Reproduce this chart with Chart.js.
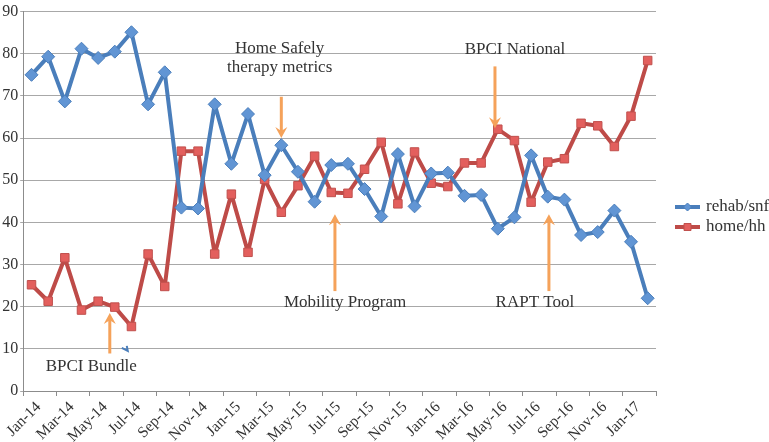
<!DOCTYPE html>
<html>
<head>
<meta charset="utf-8">
<script src="https://cdn.jsdelivr.net/npm/chart.js@4/dist/chart.umd.min.js"></script>
<style>
  html, body { margin: 0; padding: 0; background: #ffffff; }
  #wrap { width: 769px; height: 442px; position: relative; }
</style>
</head>
<body>
<div id="wrap"><canvas id="c" width="769" height="442"></canvas></div>
<script>
const categories = ['Jan-14','Feb-14','Mar-14','Apr-14','May-14','Jun-14','Jul-14','Aug-14','Sep-14','Oct-14','Nov-14','Dec-14',
  'Jan-15','Feb-15','Mar-15','Apr-15','May-15','Jun-15','Jul-15','Aug-15','Sep-15','Oct-15','Nov-15','Dec-15',
  'Jan-16','Feb-16','Mar-16','Apr-16','May-16','Jun-16','Jul-16','Aug-16','Sep-16','Oct-16','Nov-16','Dec-16',
  'Jan-17','Feb-17'];
const rehabSnf = [75, 79.3, 68.7, 81.2, 79, 80.5, 85.1, 68, 75.6, 43.5, 43.3, 68,
  53.9, 65.7, 51.2, 58.3, 52, 44.9, 53.6, 53.9, 47.9, 41.4, 56.2, 43.8,
  51.6, 51.8, 46.3, 46.5, 38.5, 41.2, 55.9, 46.1, 45.4, 37, 37.7, 42.8,
  35.4, 22];
const homeHh = [25.2, 21.3, 31.6, 19.2, 21.3, 19.9, 15.3, 32.5, 24.8, 56.9, 56.9, 32.5,
  46.7, 32.9, 50.2, 42.4, 48.7, 55.7, 47.1, 46.9, 52.6, 59, 44.4, 56.7,
  49.3, 48.5, 54.1, 54.1, 62.1, 59.4, 44.8, 54.3, 55.1, 63.5, 62.9, 58,
  65.2, 78.4];
const seriesNames = ['rehab/snf', 'home/hh'];
const yTickValues = [0, 10, 20, 30, 40, 50, 60, 70, 80, 90];

// annotations: text lines with anchor (category index, value), arrow (index, from value, to value)
const annotationTexts = [
  { lines: ['Home Safely', 'therapy metrics'], idx: 14.9, val: 81.3, lineGap: 4.5 },
  { lines: ['BPCI National'], idx: 29.03, val: 81.1, lineGap: 0 },
  { lines: ['BPCI Bundle'], idx: 3.59, val: 5.9, lineGap: 0 },
  { lines: ['Mobility Program'], idx: 18.83, val: 20.9, lineGap: 0 },
  { lines: ['RAPT Tool'], idx: 30.23, val: 20.9, lineGap: 0 }
];
const annotationArrows = [
  { idx: 15.0, from: 69.8, to: 60.0 },
  { idx: 27.83, from: 77.0, to: 62.3 },
  { idx: 4.7, from: 8.9, to: 18.5 },
  { idx: 18.22, from: 23.7, to: 41.9 },
  { idx: 31.07, from: 23.7, to: 41.9 }
];

const SERIF = "'Liberation Serif', 'DejaVu Serif', serif";
const BLUE = '#4a7ebb';
const RED = '#be4b48';
const ORANGE = '#f5a25a';

const annotationPlugin = {
  id: 'annots',
  afterDatasetsDraw(chart) {
    const ctx = chart.ctx;
    const xs = chart.scales.x, ys = chart.scales.y;
    ctx.save();
    annotationArrows.forEach(a => {
      const x = xs.getPixelForValue(a.idx);
      const y0 = ys.getPixelForValue(a.from);
      const y1 = ys.getPixelForValue(a.to);
      const dir = y1 > y0 ? 1 : -1;
      const headLen = 11, headW = 6;
      ctx.strokeStyle = ORANGE;
      ctx.fillStyle = ORANGE;
      ctx.lineWidth = 3;
      ctx.beginPath();
      ctx.moveTo(x, y0);
      ctx.lineTo(x, y1 - dir * headLen * 0.6);
      ctx.stroke();
      ctx.beginPath();
      ctx.moveTo(x, y1);
      ctx.lineTo(x - headW, y1 - dir * headLen);
      ctx.lineTo(x, y1 - dir * headLen * 0.65);
      ctx.lineTo(x + headW, y1 - dir * headLen);
      ctx.closePath();
      ctx.fill();
    });
    {
      const x = xs.getPixelForValue(5.6);
      const y = ys.getPixelForValue(10);
      ctx.strokeStyle = BLUE;
      ctx.lineWidth = 2;
      ctx.beginPath();
      ctx.moveTo(x - 3, y - 1);
      ctx.lineTo(x + 3, y + 2);
      ctx.lineTo(x + 2, y - 3);
      ctx.stroke();
    }
    ctx.font = '17px ' + SERIF;
    ctx.fillStyle = '#333333';
    ctx.textAlign = 'center';
    ctx.textBaseline = 'middle';
    annotationTexts.forEach(t => {
      const x = xs.getPixelForValue(t.idx);
      t.lines.forEach((ln, i) => {
        const y = ys.getPixelForValue(t.val - i * t.lineGap);
        ctx.fillText(ln, x, y);
      });
    });
    ctx.restore();
  }
};

const legendPlugin = {
  id: 'customLegend',
  afterDraw(chart) {
    const ctx = chart.ctx;
    const area = chart.chartArea;
    const x0 = area.right + 19;
    const yCenter = 217;
    ctx.save();
    chart.data.datasets.forEach((ds, i) => {
      const y = yCenter - 10 + i * 20;
      ctx.strokeStyle = ds.borderColor;
      ctx.lineWidth = 4;
      ctx.beginPath();
      ctx.moveTo(x0, y);
      ctx.lineTo(x0 + 25, y);
      ctx.stroke();
      ctx.fillStyle = ds.pointBackgroundColor;
      ctx.strokeStyle = ds.pointBorderColor;
      ctx.lineWidth = 1;
      const cx = x0 + 12.5;
      ctx.beginPath();
      if (ds.pointStyle === 'rectRot') {
        ctx.moveTo(cx, y - 4); ctx.lineTo(cx + 4, y); ctx.lineTo(cx, y + 4); ctx.lineTo(cx - 4, y); ctx.closePath();
      } else {
        ctx.rect(cx - 3.5, y - 3.5, 7, 7);
      }
      ctx.fill(); ctx.stroke();
      ctx.fillStyle = '#333333';
      ctx.font = '17px ' + SERIF;
      ctx.textAlign = 'left';
      ctx.textBaseline = 'middle';
      ctx.fillText(ds.label, x0 + 31, y);
    });
    ctx.restore();
  }
};

new Chart(document.getElementById('c'), {
  type: 'line',
  data: {
    labels: categories,
    datasets: [
      {
        label: seriesNames[0],
        data: rehabSnf,
        borderColor: BLUE,
        borderWidth: 4,
        borderJoinStyle: 'round',
        pointStyle: 'rectRot',
        pointRadius: 6.5,
        pointBackgroundColor: '#6195d4',
        pointBorderColor: '#4a7ebb',
        pointBorderWidth: 1,
        tension: 0
      },
      {
        label: seriesNames[1],
        data: homeHh,
        borderColor: RED,
        borderWidth: 4,
        borderJoinStyle: 'round',
        pointStyle: 'rect',
        pointRadius: 6,
        pointBackgroundColor: '#e35f5d',
        pointBorderColor: '#c0504d',
        pointBorderWidth: 1,
        tension: 0
      }
    ]
  },
  options: {
    responsive: false,
    animation: false,
    layout: { padding: { top: 6, right: 113, left: 0, bottom: 0 } },
    plugins: { legend: { display: false }, tooltip: { enabled: false } },
    scales: {
      x: {
        type: 'category',
        offset: true,
        grid: {
          offset: true,
          drawOnChartArea: false,
          drawTicks: true,
          tickLength: 5,
          color: c => (c.index === undefined || c.index % 2 === 0) ? '#8c8c8c' : 'rgba(0,0,0,0)'
        },
        border: { color: '#8c8c8c', width: 1 },
        ticks: {
          autoSkip: false,
          minRotation: 45,
          maxRotation: 45,
          padding: 2,
          labelOffset: 7,
          color: '#333333',
          font: { family: SERIF, size: 15.5 },
          callback: (v, i) => (i % 2 === 0 ? categories[i] : '')
        },
        afterFit: s => { s.height = 51; }
      },
      y: {
        min: 0,
        max: 90,
        afterBuildTicks: s => { s.ticks = yTickValues.map(v => ({ value: v })); },
        grid: { color: '#a8a8a8', lineWidth: 1, tickLength: 3 },
        border: { color: '#8c8c8c', width: 1 },
        ticks: {
          padding: 2,
          color: '#333333',
          font: { family: SERIF, size: 16 }
        },
        afterFit: s => { s.width = 23; }
      }
    }
  },
  plugins: [annotationPlugin, legendPlugin]
});
</script>
</body>
</html>
